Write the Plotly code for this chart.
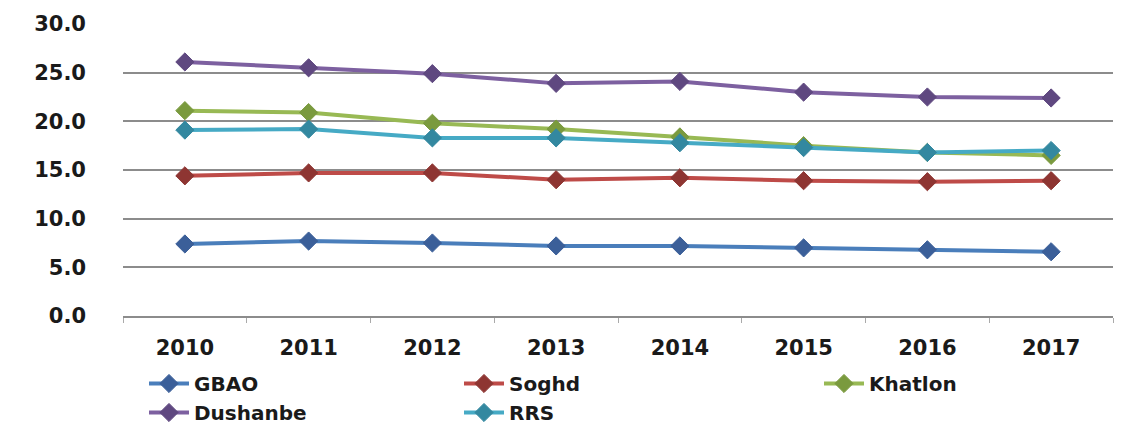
import plotly.graph_objects as go

# Years on the category axis
years = ["2010", "2011", "2012", "2013", "2014", "2015", "2016", "2017"]

# Regional series
gbao = [7.4, 7.7, 7.5, 7.2, 7.2, 7.0, 6.8, 6.6]
soghd = [14.4, 14.7, 14.7, 14.0, 14.2, 13.9, 13.8, 13.9]
khatlon = [21.1, 20.9, 19.8, 19.2, 18.4, 17.5, 16.8, 16.5]
dushanbe = [26.1, 25.5, 24.9, 23.9, 24.1, 23.0, 22.5, 22.4]
rrs = [19.1, 19.2, 18.3, 18.3, 17.8, 17.3, 16.8, 17.0]

# Y tick values
y_ticks = [0, 5, 10, 15, 20, 25, 30]

# name, values, line colour, marker colour, legend column
series = [
    ("GBAO", gbao, "#4a7ebb", "#3b5f99", "legend"),
    ("Soghd", soghd, "#be4b48", "#8e3532", "legend2"),
    ("Khatlon", khatlon, "#98b954", "#7a9a3e", "legend3"),
    ("Dushanbe", dushanbe, "#7d60a0", "#5f4880", "legend"),
    ("RRS", rrs, "#46aac5", "#3388a0", "legend2"),
]

fig = go.Figure()
for name, vals, col, edge, leg in series:
    fig.add_trace(go.Scatter(
        x=years, y=vals, name=name, mode="lines+markers",
        line=dict(color=col, width=4),
        marker=dict(symbol="diamond", size=14, color=edge,
                    line=dict(color=edge, width=1)),
        legend=leg,
    ))

font = dict(family="DejaVu Sans", size=21, color="#1a1a1a", weight="bold")
legend_font = dict(family="DejaVu Sans", size=20, color="#1a1a1a", weight="bold")


def legend_column(x_px):
    return dict(
        orientation="v", xref="container", yref="container",
        x=x_px / 1127, y=1 - 364 / 427, xanchor="left", yanchor="top",
        font=legend_font, traceorder="normal", itemwidth=40,
        bgcolor="rgba(0,0,0,0)", tracegroupgap=0,
    )


fig.update_layout(
    width=1127, height=427,
    margin=dict(l=123, r=14, t=24, b=111, autoexpand=False),
    paper_bgcolor="white", plot_bgcolor="white",
    font=font,
    showlegend=True,
    legend=legend_column(144),
    legend2=legend_column(459),
    legend3=legend_column(819),
    xaxis=dict(
        type="category", range=[-0.5, 7.5],
        showgrid=False, showline=True, linecolor="#8c8c8c", linewidth=2,
        ticks="outside", tickson="boundaries", ticklen=5, tickcolor="#aaaaaa",
        ticklabelstandoff=12, zeroline=False, tickangle=0, automargin=False,
    ),
    yaxis=dict(
        range=[0, 30], tickvals=y_ticks, tickformat=".1f",
        showgrid=True, gridcolor="#8c8c8c", gridwidth=2,
        showline=False, zeroline=False, ticks="",
        ticklabelstandoff=36, automargin=False,
    ),
)

fig.write_html("out.html")
